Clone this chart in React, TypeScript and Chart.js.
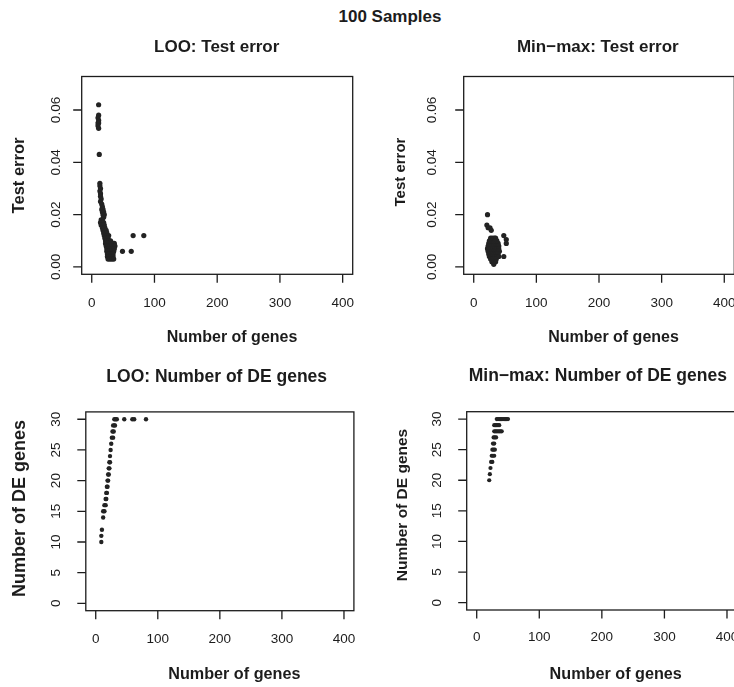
import React, { useEffect, useRef } from "react";
import { Chart, registerables } from "chart.js";
Chart.register(...registerables);

// ---------- data ----------
const xTicks = [0, 100, 200, 300, 400];
const xTickLabels = ["0", "100", "200", "300", "400"];
const errTicks = [0, 0.02, 0.04, 0.06];
const errTickLabels = ["0.00", "0.02", "0.04", "0.06"];
const deTicks = [0, 5, 10, 15, 20, 25, 30];
const deTickLabels = ["0", "5", "10", "15", "20", "25", "30"];
const xRange = [-16, 416];
const errRange = [-0.0028, 0.0728];
const deRange = [-1.2, 31.2];

const mainTitle = "100 Samples";

// [number of genes, test error]
const looTestError: [number, number][] = [
  [11, 0.062], [11, 0.058], [10, 0.057], [11, 0.056], [10, 0.055], [11, 0.055], [10, 0.054], [11, 0.053], [12, 0.043],
  [13, 0.032], [13, 0.031], [14, 0.030], [13, 0.029], [14, 0.028], [14, 0.027], [15, 0.026], [14, 0.025],
  [16, 0.024], [17, 0.023], [16, 0.022], [18, 0.022], [17, 0.021], [19, 0.021], [18, 0.020], [20, 0.020], [19, 0.019],
  [15, 0.018], [17, 0.018], [14, 0.017], [16, 0.017], [19, 0.017], [15, 0.016], [18, 0.016], [20, 0.016],
  [17, 0.015], [19, 0.015], [21, 0.015], [18, 0.014], [20, 0.014], [23, 0.014], [19, 0.013], [21, 0.013], [24, 0.013],
  [20, 0.012], [22, 0.012], [25, 0.012], [27, 0.012],
  [21, 0.011], [23, 0.011], [26, 0.011], [22, 0.010], [24, 0.010], [27, 0.010], [30, 0.010],
  [22, 0.009], [25, 0.009], [28, 0.009], [31, 0.009], [34, 0.009], [36, 0.009],
  [23, 0.008], [26, 0.008], [29, 0.008], [32, 0.008], [35, 0.008], [37, 0.008],
  [24, 0.007], [27, 0.007], [30, 0.007], [33, 0.007], [36, 0.007],
  [24, 0.006], [26, 0.006], [29, 0.006], [32, 0.006], [35, 0.006],
  [25, 0.005], [28, 0.005], [31, 0.005], [34, 0.005],
  [25, 0.004], [28, 0.004], [31, 0.004], [34, 0.004],
  [26, 0.003], [29, 0.003], [32, 0.003], [35, 0.003],
  [49, 0.006], [63, 0.006], [66, 0.012], [83, 0.012],
];

const minmaxTestError: [number, number][] = [
  [22, 0.020], [21, 0.016], [23, 0.015], [26, 0.015], [28, 0.014],
  [48, 0.012], [52, 0.0105], [52, 0.009], [48, 0.004],
  [27, 0.011], [30, 0.011], [33, 0.011], [35, 0.011],
  [25, 0.010], [28, 0.010], [31, 0.010], [34, 0.010], [37, 0.010],
  [24, 0.009], [27, 0.009], [30, 0.009], [33, 0.009], [36, 0.009], [39, 0.009],
  [23, 0.008], [26, 0.008], [29, 0.008], [32, 0.008], [35, 0.008], [38, 0.008], [40, 0.008],
  [22, 0.007], [25, 0.007], [28, 0.007], [31, 0.007], [34, 0.007], [37, 0.007], [40, 0.007],
  [23, 0.006], [26, 0.006], [29, 0.006], [32, 0.006], [35, 0.006], [38, 0.006], [41, 0.006],
  [24, 0.005], [27, 0.005], [30, 0.005], [33, 0.005], [36, 0.005], [39, 0.005],
  [25, 0.004], [28, 0.004], [31, 0.004], [34, 0.004], [37, 0.004], [40, 0.004],
  [27, 0.003], [30, 0.003], [33, 0.003], [36, 0.003],
  [29, 0.002], [32, 0.002], [35, 0.002],
  [32, 0.001],
];

// [number of genes, number of DE genes]
const looDEGenes: [number, number][] = [
  [9, 10], [9, 11], [10, 12], [12, 14], [12, 15], [14, 15], [14, 16], [16, 16], [16, 17], [17, 17],
  [17, 18], [18, 18], [18, 19], [19, 19], [19, 20], [20, 20], [20, 21], [21, 21], [21, 22], [22, 22],
  [22, 23], [23, 23], [23, 24], [24, 25], [25, 26], [26, 27], [28, 27], [27, 28], [29, 28],
  [28, 29], [30, 29], [31, 29], [30, 30], [32, 30], [34, 30], [46, 30], [59, 30], [62, 30], [81, 30],
];

const minmaxDEGenes: [number, number][] = [
  [20, 20], [21, 21], [22, 22], [23, 23], [25, 23], [24, 24], [26, 24], [28, 24],
  [25, 25], [27, 25], [29, 25], [26, 26], [28, 26], [27, 27], [29, 27], [31, 27],
  [28, 28], [30, 28], [32, 28], [34, 28], [36, 28], [38, 28], [40, 28],
  [28, 29], [30, 29], [32, 29], [34, 29], [36, 29],
  [32, 30], [34, 30], [36, 30], [38, 30], [40, 30], [42, 30], [44, 30], [46, 30], [48, 30], [50, 30],
];

// ---------- layout / style ----------
const INK = "#1c1c1c";
const FONT = '"Liberation Sans", Arial, Helvetica, sans-serif';

type Txt = { text: string; x: number; y: number; size: number };
type Panel = {
  left: number; top: number; width: number; height: number;
  area: { l: number; t: number; r: number; b: number };
  points: [number, number][];
  yRange: number[];
  yTicks: number[]; yTickLabels: string[];
  yTickX: number; xTickDy: number;
  radius: number;
  title: Txt; xlabel: Txt; ylabel: Txt;
};

const panels: Panel[] = [
  {
    left: 0, top: 0, width: 367, height: 350,
    area: { l: 81.7, t: 76.5, r: 352.7, b: 274.3 },
    points: looTestError, yRange: errRange, yTicks: errTicks, yTickLabels: errTickLabels,
    yTickX: 56.5, xTickDy: 29, radius: 2.6,
    title: { text: "LOO: Test error", x: 216.7, y: 47.5, size: 17 },
    xlabel: { text: "Number of genes", x: 232, y: 338, size: 16 },
    ylabel: { text: "Test error", x: 19, y: 175.5, size: 16.5 },
  },
  {
    left: 367, top: 0, width: 400, height: 350,
    area: { l: 463.7, t: 76.5, r: 734.3, b: 274.3 },
    points: minmaxTestError, yRange: errRange, yTicks: errTicks, yTickLabels: errTickLabels,
    yTickX: 432, xTickDy: 29, radius: 2.6,
    title: { text: "Min\u2212max: Test error", x: 597.8, y: 47.5, size: 17 },
    xlabel: { text: "Number of genes", x: 613.5, y: 337.5, size: 16 },
    ylabel: { text: "Test error", x: 400.5, y: 172, size: 15 },
  },
  {
    left: 0, top: 350, width: 367, height: 337,
    area: { l: 85.8, t: 411.9, r: 353.9, b: 610.7 },
    points: looDEGenes, yRange: deRange, yTicks: deTicks, yTickLabels: deTickLabels,
    yTickX: 56.7, xTickDy: 28.6, radius: 2.2,
    title: { text: "LOO: Number of DE genes", x: 216.7, y: 377.3, size: 17.5 },
    xlabel: { text: "Number of genes", x: 234.3, y: 675, size: 16.2 },
    ylabel: { text: "Number of DE genes", x: 20, y: 508.5, size: 18 },
  },
  {
    left: 367, top: 350, width: 400, height: 337,
    area: { l: 466.7, t: 411.7, r: 737, b: 610 },
    points: minmaxDEGenes, yRange: deRange, yTicks: deTicks, yTickLabels: deTickLabels,
    yTickX: 437, xTickDy: 27.5, radius: 2.1,
    title: { text: "Min\u2212max: Number of DE genes", x: 597.8, y: 375.7, size: 17.5 },
    xlabel: { text: "Number of genes", x: 615.7, y: 675, size: 16.2 },
    ylabel: { text: "Number of DE genes", x: 402.7, y: 505, size: 15.5 },
  },
];

const TICK = 8.5;

function PanelChart({ p }: { p: Panel }) {
  const ref = useRef<HTMLCanvasElement>(null);
  useEffect(() => {
    const c = ref.current;
    if (!c) return;
    const pad = {
      left: p.area.l - p.left,
      top: p.area.t - p.top,
      right: p.left + p.width - p.area.r,
      bottom: p.top + p.height - p.area.b,
    };
    const rAxes = {
      id: "rAxes",
      afterDraw(chart: any) {
        const ctx = chart.ctx as CanvasRenderingContext2D;
        const a = chart.chartArea;
        const xs = chart.scales.x;
        const ys = chart.scales.y;
        ctx.save();
        ctx.strokeStyle = INK;
        ctx.lineWidth = 1.3;
        ctx.strokeRect(a.left, a.top, a.right - a.left, a.bottom - a.top);
        ctx.beginPath();
        xTicks.forEach((v) => {
          const px = xs.getPixelForValue(v);
          ctx.moveTo(px, a.bottom);
          ctx.lineTo(px, a.bottom + TICK);
        });
        p.yTicks.forEach((v) => {
          const py = ys.getPixelForValue(v);
          ctx.moveTo(a.left, py);
          ctx.lineTo(a.left - TICK, py);
        });
        ctx.stroke();

        ctx.fillStyle = INK;
        ctx.textAlign = "center";
        ctx.textBaseline = "middle";
        ctx.font = `13.5px ${FONT}`;
        xTicks.forEach((v, i) => {
          const px = xs.getPixelForValue(v);
          ctx.fillText(xTickLabels[i], px, a.bottom + p.xTickDy);
        });
        p.yTicks.forEach((v, i) => {
          const py = ys.getPixelForValue(v);
          ctx.save();
          ctx.translate(p.yTickX - p.left, py);
          ctx.rotate(-Math.PI / 2);
          ctx.fillText(p.yTickLabels[i], 0, 0);
          ctx.restore();
        });

        const drawTxt = (t: Txt, rotate: boolean) => {
          ctx.font = `bold ${t.size}px ${FONT}`;
          ctx.save();
          ctx.translate(t.x - p.left, t.y - p.top);
          if (rotate) ctx.rotate(-Math.PI / 2);
          ctx.fillText(t.text, 0, 0);
          ctx.restore();
        };
        drawTxt(p.title, false);
        drawTxt(p.xlabel, false);
        drawTxt(p.ylabel, true);
        ctx.restore();
      },
    };

    const chart = new Chart(c, {
      type: "scatter",
      data: {
        datasets: [
          {
            data: p.points.map(([x, y]) => ({ x, y })),
            backgroundColor: "#232323",
            borderWidth: 0,
            pointRadius: p.radius,
            pointHoverRadius: p.radius,
          },
        ],
      },
      options: {
        responsive: false,
        animation: false,
        devicePixelRatio: 1,
        events: [],
        layout: { padding: pad },
        plugins: { legend: { display: false }, tooltip: { enabled: false }, title: { display: false } },
        scales: {
          x: { type: "linear", display: false, min: xRange[0], max: xRange[1] },
          y: { type: "linear", display: false, min: p.yRange[0], max: p.yRange[1] },
        },
      },
      plugins: [rAxes],
    } as any);
    return () => chart.destroy();
  }, [p]);
  return (
    <canvas
      ref={ref}
      width={p.width}
      height={p.height}
      style={{ position: "absolute", left: p.left, top: p.top, width: p.width, height: p.height }}
    />
  );
}

export default function App() {
  return (
    <div
      style={{
        position: "fixed", left: 0, top: 0, width: 734, height: 687,
        overflow: "hidden", background: "#ffffff",
      }}
    >
      <div
        style={{
          position: "absolute", left: 290, top: 7, width: 200, textAlign: "center",
          font: `bold 17px ${FONT}`, lineHeight: "20px", color: INK,
        }}
      >
        {mainTitle}
      </div>
      {panels.map((p, i) => (
        <PanelChart key={i} p={p} />
      ))}
    </div>
  );
}
